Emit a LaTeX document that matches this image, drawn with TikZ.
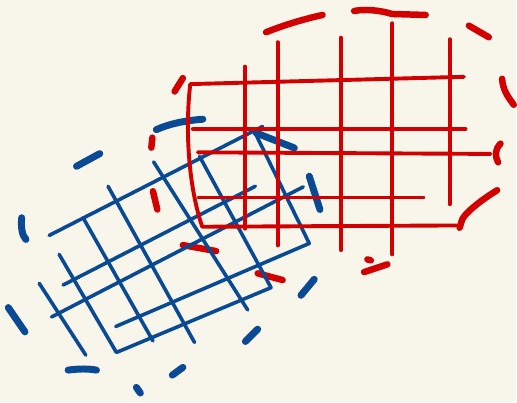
\documentclass[tikz,border=0pt]{standalone}
\definecolor{paper}{HTML}{F8F6EA}
\definecolor{inkred}{HTML}{D20000}
\definecolor{inkblue}{HTML}{0A4A94}
\begin{document}
\begin{tikzpicture}[x=1pt,y=-1pt,line cap=round,line join=round,
    redgrid/.style={inkred,line width=3.9pt},
    redblob/.style={inkred,line width=6.5pt},
    bluegrid/.style={inkblue,line width=3.6pt},
    blueblob/.style={inkblue,line width=7pt}]
  \fill[paper] (0,0) rectangle (517,403);
  % red blob, dashed by hand
  \draw[redblob] (175,91.7) -- (183.3,78.3);
  \draw[redblob] (266.7,32.3) .. controls (285,25) and (305,19) .. (323.3,15);
  \draw[redblob] (355,11) .. controls (365,9) and (380,10) .. (393,14) -- (426.7,15);
  \draw[redblob] (470,25.7) -- (490,37.3);
  \draw[redblob] (503.3,79) .. controls (504,90) and (509,97) .. (515,105);
  \draw[redblob] (501.7,144) .. controls (496,150) and (496,156) .. (499.3,162.7);
  \draw[redblob] (498.3,190.7) .. controls (480,202) and (466,214) .. (463.3,220) -- (460.7,228.3);
  \draw[redblob] (368.3,260) -- (371.7,261);
  \draw[redblob] (388.3,265) -- (365,272.7);
  \draw[redblob] (283.3,280.7) -- (258.3,274);
  \draw[redblob] (216.7,251.7) -- (183.3,245.7);
  \draw[redblob] (157.7,210) -- (153.3,191.7);
  \draw[redblob] (151.7,148) -- (152.7,138);
  % blue blob
  \draw[blueblob] (156.7,130) .. controls (170,124) and (185,121) .. (203.3,119.5);
  \draw[blueblob] (256.7,133.3) -- (295,148.3);
  \draw[blueblob] (310,176.7) -- (320.7,210);
  \draw[blueblob] (315,280) -- (301.7,296);
  \draw[blueblob] (258.3,330) -- (246,342.3);
  \draw[blueblob] (183.3,368.3) -- (172.7,376);
  \draw[blueblob] (136.7,388.3) -- (140.7,394);
  \draw[blueblob] (68.3,371) .. controls (80,369.5) and (88,369.5) .. (96.7,371);
  \draw[blueblob] (8.3,308.3) -- (25,332.7);
  \draw[blueblob] (21.7,218.3) .. controls (21,228) and (22,236) .. (26,240);
  \draw[blueblob] (76.7,166.7) -- (100,154);
  % blue grid
  \draw[bluegrid] (49.3,236) -- (263.3,126.7);
  \draw[bluegrid] (63.3,285.7) -- (256,186.7);
  \draw[bluegrid] (51.7,317.7) -- (304,187.3);
  \draw[bluegrid] (255,131.7) -- (310,244) -- (116,327.3);
  \draw[bluegrid] (59.3,255) -- (116.7,353.3) -- (271.7,288.3) -- (200,156.7);
  \draw[bluegrid] (39.3,284) -- (86,356);
  \draw[bluegrid] (83.3,218.3) -- (153.3,341.7);
  \draw[bluegrid] (108.3,186.7) -- (195,343.3);
  \draw[bluegrid] (154,162.3) -- (248.3,310.7);
  % red grid
  \draw[redgrid] (465,77) -- (190.7,84.3) .. controls (185,135) and (190,190) .. (202.7,227.3) -- (458.3,226);
  \draw[redgrid] (193.3,129.3) -- (466.7,129.3);
  \draw[redgrid] (198.3,152.7) -- (491.7,154.3);
  \draw[redgrid] (199.3,198) -- (424.3,198);
  \draw[redgrid] (245.7,66.7) -- (245.7,229.3);
  \draw[redgrid] (278.3,42.3) -- (278.3,246);
  \draw[redgrid] (341.7,37.7) -- (341.7,250.7);
  \draw[redgrid] (393.3,23.3) -- (393.3,255);
  \draw[redgrid] (450.7,39.3) -- (450.7,204.7);
\end{tikzpicture}
\end{document}
